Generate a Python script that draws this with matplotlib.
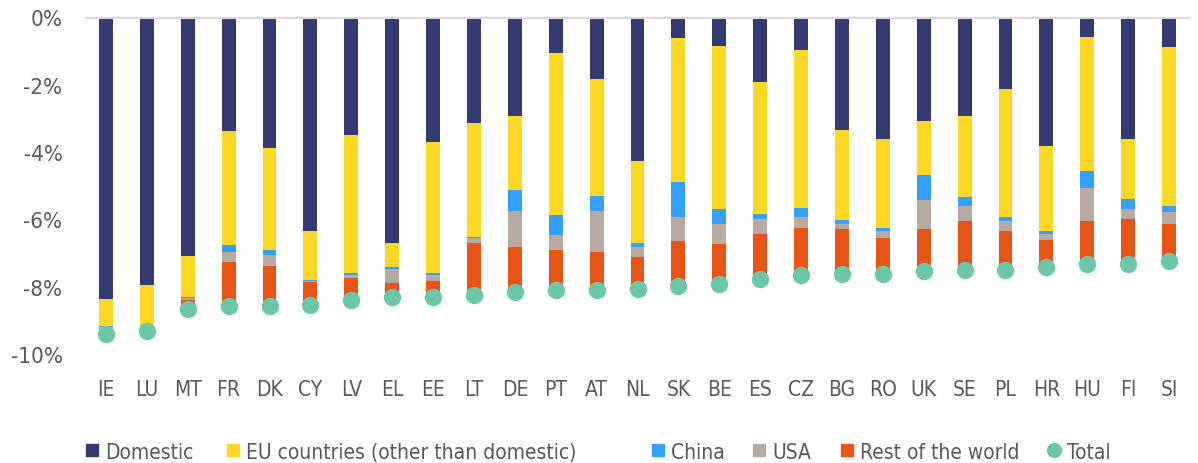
import matplotlib
matplotlib.use("Agg")
import matplotlib.pyplot as plt
from matplotlib import font_manager
from matplotlib.lines import Line2D
import numpy as np

countries = ["IE", "LU", "MT", "FR", "DK", "CY", "LV", "EL", "EE", "LT", "DE", "PT", "AT",
             "NL", "SK", "BE", "ES", "CZ", "BG", "RO", "UK", "SE", "PL", "HR", "HU", "FI", "SI"]

# contributions, in percent
domestic = [-8.36, -7.96, -7.09, -3.37, -3.89, -6.33, -3.50, -6.69, -3.71, -3.15, -2.94, -1.06, -1.84,
            -4.25, -0.62, -0.84, -1.93, -0.97, -3.34, -3.60, -3.07, -2.94, -2.11, -3.82, -0.57, -3.60, -0.89]
eu_other = [-0.82, -1.20, -1.22, -3.40, -3.01, -1.48, -4.08, -0.72, -3.89, -3.36, -2.18, -4.81, -3.46,
            -2.44, -4.28, -4.84, -3.90, -4.68, -2.69, -2.66, -1.61, -2.40, -3.81, -2.53, -3.99, -1.78, -4.71]
china = [-0.02, -0.02, -0.04, -0.19, -0.15, -0.01, -0.06, -0.05, -0.05, -0.05, -0.62, -0.60, -0.44,
         -0.14, -1.02, -0.45, -0.17, -0.27, -0.10, -0.08, -0.75, -0.27, -0.13, -0.08, -0.52, -0.31, -0.18]
usa = [-0.06, -0.05, -0.06, -0.30, -0.34, -0.04, -0.10, -0.42, -0.18, -0.13, -1.08, -0.44, -1.22,
       -0.30, -0.73, -0.61, -0.43, -0.34, -0.16, -0.22, -0.86, -0.43, -0.30, -0.17, -0.96, -0.31, -0.35]
rest_world = [-0.14, -0.09, -0.26, -1.32, -1.19, -0.67, -0.67, -0.43, -0.48, -1.57, -1.33, -1.19, -1.14,
              -0.93, -1.33, -1.19, -1.35, -1.40, -1.32, -1.05, -1.25, -1.45, -1.14, -0.81, -1.28, -1.32, -1.11]
total = [-9.40, -9.32, -8.67, -8.58, -8.58, -8.53, -8.41, -8.31, -8.31, -8.26, -8.15, -8.10, -8.10,
         -8.06, -7.98, -7.93, -7.78, -7.66, -7.61, -7.61, -7.54, -7.49, -7.49, -7.41, -7.32, -7.32, -7.24]

series_names = ["Domestic", "EU countries (other than domestic)", "China", "USA", "Rest of the world"]
series_colors = ["#353B70", "#FFD724", "#339FFF", "#B8A9A1", "#E85416"]
total_color = "#6CC7A8"
text_color = "#595959"

# pick a condensed sans face if one is installed
condensed = [f for f in font_manager.fontManager.ttflist
             if f.name == "DejaVu Sans" and f.stretch == "condensed" and f.style == "normal"
             and f.weight in (400, "normal")]
plt.rcParams["font.family"] = ["DejaVu Sans"]
if condensed:
    plt.rcParams["font.stretch"] = "condensed"
    fsize, ysize = 15, 16
else:
    fsize, ysize = 13.6, 14.5

W, H = 1198, 464
fig = plt.figure(figsize=(W / 100, H / 100), dpi=100)
ax = fig.add_axes([85.5 / W, 1 - 355 / H, 1104 / W, 336.5 / H])

x = np.arange(len(countries))
bottom = np.zeros(len(countries))
for vals, name, col in zip([domestic, eu_other, china, usa, rest_world], series_names, series_colors):
    v = np.array(vals)
    ax.bar(x, v, bottom=bottom, width=0.34, color=col, label=name, zorder=2)
    bottom += v

ax.plot(x, total, linestyle="none", marker="o", markersize=11.5, color=total_color,
        zorder=3, clip_on=False, label="Total")

ax.set_xlim(-0.5, len(countries) - 0.5)
ax.set_ylim(-10, 0)
ax.set_yticks(np.arange(-10, 1, 2))
ax.set_yticklabels([f"{v}%" for v in range(-10, 1, 2)])
ax.set_xticks(x)
ax.set_xticklabels(countries)

for s in ["left", "right", "bottom"]:
    ax.spines[s].set_visible(False)
ax.spines["top"].set_color("#D9D9D9")
ax.spines["top"].set_linewidth(1.5)
ax.tick_params(axis="both", length=0, colors=text_color)
ax.tick_params(axis="x", pad=18, labelsize=fsize)
ax.tick_params(axis="y", pad=16.5, labelsize=ysize)

# legend row along the bottom edge
legend_y = 1 - 451 / H
legend_x = [86, 227, 652, 753, 841, 1048]
legend_labels = series_names + ["Total"]
legend_markers = ["s"] * 5 + ["o"]
legend_colors = series_colors + [total_color]
for px, lab, mk, col in zip(legend_x, legend_labels, legend_markers, legend_colors):
    fig.add_artist(Line2D([(px + 6) / W], [legend_y], marker=mk, linestyle="none",
                          markersize=9 if mk == "s" else 10, color=col,
                          transform=fig.transFigure))
    fig.text((px + 19) / W, legend_y, lab, ha="left", va="center_baseline",
             fontsize=fsize, color=text_color)

fig.savefig("out.png", dpi=100)
